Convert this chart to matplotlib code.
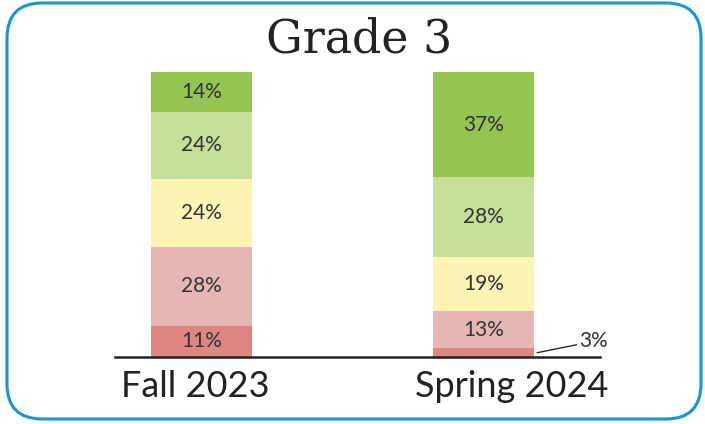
import matplotlib
matplotlib.use("Agg")
import matplotlib.pyplot as plt
from matplotlib.patches import FancyBboxPatch
import numpy as np

categories = ["Fall 2023", "Spring 2024"]
# stacked from bottom to top
levels = ["Level 1", "Level 2", "Level 3", "Level 4", "Level 5"]
fall_values = [11, 28, 24, 24, 14]
spring_values = [3, 13, 19, 28, 37]
colors = ["#DE8682", "#E6B6B4", "#FBF4B4", "#C5DF9B", "#94C552"]
title = "Grade 3"

series = [fall_values, spring_values]

fig = plt.figure(figsize=(7.05, 4.24), dpi=100)
fig.patch.set_facecolor("white")

# rounded border
border = FancyBboxPatch((7 / 705, 5 / 424), 694 / 705, 416 / 424,
                        boxstyle="round,pad=0,rounding_size=0.05",
                        transform=fig.transFigure, fill=False,
                        edgecolor="#1A93D9", linewidth=2.2,
                        mutation_aspect=705 / 424)
fig.patches.append(border)

ax = fig.add_axes([115 / 705, 1 - 357 / 424, 485 / 705, 285 / 424])
ax.set_xlim(-0.306, 1.412)
ax.set_ylim(0, 100)
ax.axis("off")

width = 0.358
x = np.arange(len(categories))
for i, vals in enumerate(series):
    total = sum(vals)
    bottom = 0.0
    for j, v in enumerate(vals):
        h = v / total * 100
        ax.bar(x[i], h, width=width, bottom=bottom, color=colors[j],
               edgecolor="none")
        label = f"{v}%"
        if h >= 6:
            ax.text(x[i], bottom + h / 2, label, ha="center", va="center",
                    fontsize=15, color="#333333", family="Lato")
        else:
            # leader line annotation for small segment
            ax.annotate(label, xy=(x[i] + width / 2 + 0.01, bottom + h / 2),
                        xytext=(x[i] + width / 2 + 0.16, bottom + h + 2.5),
                        ha="left", va="center", fontsize=15,
                        color="#333333", family="Lato",
                        arrowprops=dict(arrowstyle="-", color="#2b2b2b",
                                        lw=1.0, shrinkA=0, shrinkB=0))
        bottom += h

ax.axhline(0, color="#222222", linewidth=1.8, clip_on=False, zorder=5)

label_offsets = [-0.023, 0.10]
for i, cat in enumerate(categories):
    ax.text(x[i] + label_offsets[i], -10.5, cat, ha="center", va="center",
            fontsize=26, color="#222222", family="Lato")

fig.text(0.51, 1 - 40 / 424, title, ha="center", va="center",
         fontsize=33, color="#222222", family="DejaVu Serif")

fig.savefig("out.png", dpi=100)
